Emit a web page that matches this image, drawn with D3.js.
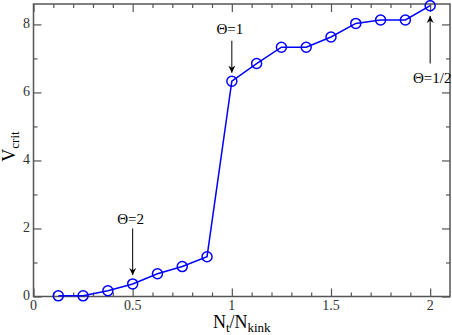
<!DOCTYPE html>
<html>
<head>
<meta charset="utf-8">
<script src="https://cdn.jsdelivr.net/npm/d3@7"></script>
<style>
  body { margin: 0; background: #fff; }
</style>
</head>
<body>
<div id="chart"></div>
<script>
// data
let ratio = [0.125, 0.25, 0.375, 0.5, 0.625, 0.75, 0.875, 1, 1.125, 1.25, 1.375, 1.5, 1.625, 1.75, 1.875, 2];
let vcrit = [0.02, 0.02, 0.17, 0.37, 0.67, 0.88, 1.17, 6.33, 6.85, 7.33, 7.33, 7.63, 8.03, 8.13, 8.13, 8.55];
let xTicks = [0, 0.5, 1, 1.5, 2];
let yTicks = [0, 2, 4, 6, 8];
// annotations: label, x, label y, arrow start y, arrow end y
let notes = [
  { label: "Θ=2", x: 0.5, ty: 2.13, y0: 2.0, y1: 0.63 },
  { label: "Θ=1", x: 1, ty: 7.73, y0: 7.52, y1: 6.58 },
  { label: "Θ=1/2", x: 2, ty: 6.29, y0: 6.85, y1: 8.25 }
];

let width = 452, height = 335;
let mLeft = 33.5, mRight = 450, mTop = 4, mBottom = 296.5;
let serif = "'Liberation Serif', 'Times New Roman', Times, 'DejaVu Serif', serif";

const svg = d3.select("#chart").append("svg")
  .attr("width", width)
  .attr("height", height)
  .attr("font-family", serif)
  .style("font-family", serif);

let x = d3.scaleLinear().domain([0, 2.1]).range([mLeft, mRight]);
let y = d3.scaleLinear().domain([0, 8.6]).range([mBottom, mTop]);

svg.append("defs").append("marker")
  .attr("id", "head")
  .attr("viewBox", "0 0 10 10")
  .attr("refX", 10)
  .attr("refY", 5)
  .attr("markerWidth", 7)
  .attr("markerHeight", 8)
  .attr("markerUnits", "userSpaceOnUse")
  .attr("orient", "auto")
  .append("path")
  .attr("d", "M0,0 L10,5 L0,10 L3,5 Z")
  .attr("fill", "#000");

// ticks, pointing inward on all four sides
let minorX = d3.range(0, 2.1, 0.1).filter(v => Math.abs(v * 2 - Math.round(v * 2)) > 1e-6);
let minorY = d3.range(1, 9, 2);

let axes = [
  [d3.axisBottom(x), `translate(0,${mBottom})`, xTicks, minorX],
  [d3.axisTop(x), `translate(0,${mTop})`, xTicks, minorX],
  [d3.axisLeft(y), `translate(${mLeft},0)`, yTicks, minorY],
  [d3.axisRight(y), `translate(${mRight},0)`, yTicks, minorY]
];
axes.forEach(a => {
  let g1 = svg.append("g").attr("transform", a[1]);
  let ax = a[0];
  g1.call(ax.tickValues(a[2]).tickSize(-8).tickSizeOuter(0).tickFormat(""));
  g1.append("g").call(ax.tickValues(a[3]).tickSize(-4).tickSizeOuter(0).tickFormat(""));
  g1.selectAll(".domain").remove();
  g1.selectAll("line").attr("stroke", "#555").attr("stroke-width", 1.2);
});

svg.append("rect")
  .attr("x", mLeft)
  .attr("y", mTop)
  .attr("width", mRight - mLeft)
  .attr("height", mBottom - mTop)
  .attr("fill", "none")
  .attr("stroke", "#555")
  .attr("stroke-width", 1.5);

// tick labels
svg.selectAll(".xl")
  .data(xTicks)
  .join("text")
  .attr("class", "xl")
  .attr("x", d => x(d))
  .attr("y", mBottom + 13.5)
  .attr("text-anchor", "middle")
  .attr("font-size", 14)
  .attr("fill", "#333")
  .text(d => d);

svg.selectAll(".yl")
  .data(yTicks)
  .join("text")
  .attr("class", "yl")
  .attr("x", mLeft - 3.5)
  .attr("y", d => y(d) + 3.5)
  .attr("text-anchor", "end")
  .attr("font-size", 14)
  .attr("fill", "#333")
  .text(d => d);

// axis titles
let xt = svg.append("text")
  .attr("x", x(1.05))
  .attr("y", 328)
  .attr("text-anchor", "middle")
  .attr("font-size", 18)
  .attr("fill", "#000");
xt.append("tspan").text("N");
xt.append("tspan").attr("dy", 4).attr("font-size", 13).text("t");
xt.append("tspan").attr("dy", -4).text("/N");
xt.append("tspan").attr("dy", 4).attr("font-size", 13).text("kink");

let yt = svg.append("text")
  .attr("transform", `translate(15,${y(4.41)}) rotate(-90)`)
  .attr("text-anchor", "middle")
  .attr("font-size", 18)
  .attr("fill", "#000");
yt.append("tspan").text("V");
yt.append("tspan").attr("dy", 4).attr("font-size", 13).text("crit");

// series
let pts = ratio.map((d, i) => [d, vcrit[i]]);

svg.append("path")
  .datum(pts)
  .attr("fill", "none")
  .attr("stroke", "#0000ff")
  .attr("stroke-width", 1.5)
  .attr("d", d3.line().x(d => x(d[0])).y(d => y(d[1])));

svg.selectAll(".pt")
  .data(pts)
  .join("circle")
  .attr("class", "pt")
  .attr("cx", d => x(d[0]))
  .attr("cy", d => y(d[1]))
  .attr("r", 5)
  .attr("fill", "none")
  .attr("stroke", "#0000ff")
  .attr("stroke-width", 1.5);

// annotations
notes.forEach(n => {
  svg.append("line")
    .attr("x1", x(n.x))
    .attr("x2", x(n.x))
    .attr("y1", y(n.y0))
    .attr("y2", y(n.y1))
    .attr("stroke", "#000")
    .attr("stroke-width", 1)
    .attr("marker-end", "url(#head)");
  svg.append("text")
    .attr("x", x(n.x) + (n.x === 2 ? 2 : -2))
    .attr("y", y(n.ty))
    .attr("text-anchor", "middle")
    .attr("font-size", 15)
    .attr("fill", "#000")
    .text(n.label);
});
</script>
</body>
</html>
